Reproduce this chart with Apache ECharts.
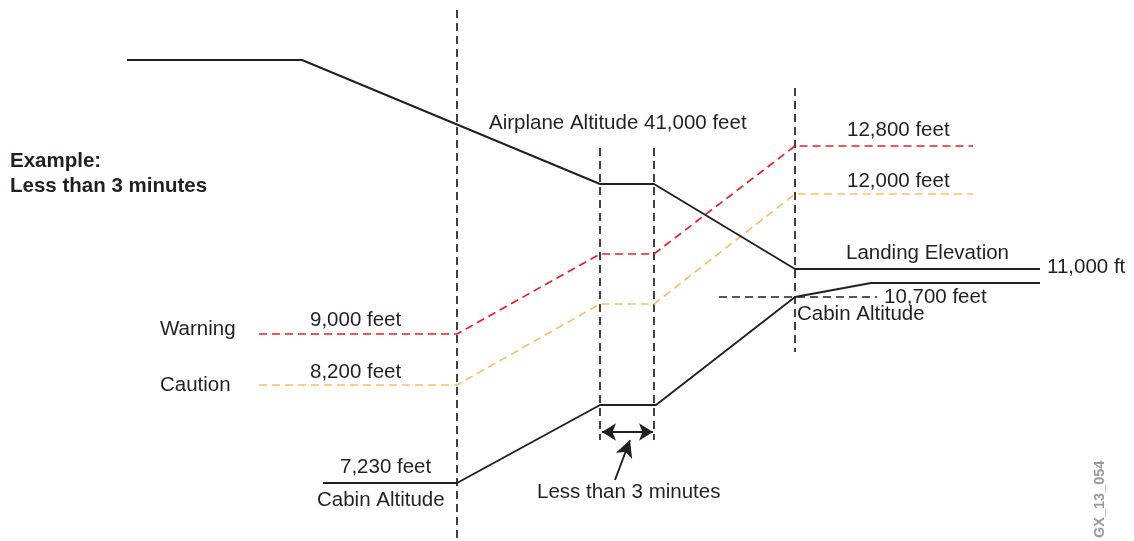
<!DOCTYPE html>
<html>
<head>
<meta charset="utf-8">
<script src="https://cdn.jsdelivr.net/npm/echarts@6/dist/echarts.min.js"></script>
<style>
  html, body { margin: 0; padding: 0; background: #fff; }
  #chart { width: 1134px; height: 541px; }
</style>
</head>
<body>
<div id="chart"></div>
<script>
// diagram coordinates (horizontal = time, vertical = drawing units, top = 0)
const airplaneX = [127, 302, 600, 654, 795, 1040]
const airplaneY = [60, 60, 184, 184, 269, 269]

const cabinX = [323, 457, 600, 656, 795, 871, 1040]
const cabinY = [483, 483, 405, 405, 297, 283, 283]

const warningX = [259, 457, 600, 654, 795, 973]
const warningY = [334, 334, 254, 254, 146, 146]

const cautionX = [259, 457, 600, 654, 795, 973]
const cautionY = [385, 385, 304, 304, 194, 194]

// vertical dashed guides: x, top, bottom
const guideX = [457, 600, 654, 795]
const guideTop = [10, 148, 148, 88]
const guideBottom = [541, 440, 440, 352]

// cabin altitude reference at 10,700 feet
const refX = [719, 877]
const refY = [297, 297]

const BLACK = '#231f20'
const RED = '#ed1c24'
const ORANGE = '#fbbf6a'
const FONT = '20.5px "Liberation Sans", Arial, sans-serif'
const BOLD = 'bold 20.5px "Liberation Sans", Arial, sans-serif'

const zip = (xs, ys) => xs.map((x, i) => [x, ys[i]])

const lineSeries = (name, xs, ys, color, dashed) => ({
  name,
  type: 'line',
  data: zip(xs, ys),
  symbol: 'none',
  silent: true,
  lineStyle: {
    color,
    width: dashed ? 1.7 : 1.9,
    type: dashed ? [8, 5] : 'solid'
  },
  z: dashed ? 3 : 4
})

const guides = guideX.map((x, i) =>
  lineSeries('guide' + i, [x, x], [guideTop[i], guideBottom[i]], BLACK, true))

const text = (str, x, y, opts = {}) => ({
  type: 'text',
  x,
  y,
  style: Object.assign({
    text: str,
    fill: BLACK,
    font: FONT,
    textVerticalAlign: 'middle'
  }, opts)
})

const chart = echarts.init(document.getElementById('chart'))

chart.setOption({
  animation: false,
  grid: { left: 0, right: 0, top: 0, bottom: 0 },
  xAxis: { type: 'value', min: 0, max: 1134, show: false },
  yAxis: { type: 'value', min: 0, max: 541, inverse: true, show: false },
  series: [
    ...guides,
    lineSeries('reference', refX, refY, BLACK, true),
    lineSeries('Warning', warningX, warningY, RED, true),
    lineSeries('Caution', cautionX, cautionY, ORANGE, true),
    lineSeries('Airplane Altitude', airplaneX, airplaneY, BLACK, false),
    Object.assign(lineSeries('Cabin Altitude', cabinX, cabinY, BLACK, false), {
      markLine: {
        silent: true,
        animation: false,
        label: { show: false },
        lineStyle: { color: BLACK, width: 1.9, type: 'solid' },
        data: [
          [
            { coord: [602, 432], symbol: 'arrow', symbolSize: [13, 14] },
            { coord: [653, 432], symbol: 'arrow', symbolSize: [13, 14] }
          ],
          [
            { coord: [615, 480], symbol: 'none' },
            { coord: [630, 440], symbol: 'arrow', symbolSize: [13, 17] }
          ]
        ]
      }
    })
  ],
  graphic: [
    text('Example:', 10, 161, { font: BOLD }),
    text('Less than 3 minutes', 10, 186, { font: BOLD }),
    text('Airplane Altitude 41,000 feet', 489, 123),
    text('12,800 feet', 847, 130),
    text('12,000 feet', 847, 181),
    text('Landing Elevation', 846, 253),
    text('11,000 ft', 1047, 267),
    text('10,700 feet', 884, 297),
    text('Cabin Altitude', 797, 314),
    text('Warning', 160, 329),
    text('9,000 feet', 310, 320),
    text('Caution', 160, 385),
    text('8,200 feet', 310, 372),
    text('7,230 feet', 340, 467),
    text('Cabin Altitude', 317, 500),
    text('Less than 3 minutes', 537, 492),
    {
      type: 'text',
      x: 1100,
      y: 538,
      rotation: Math.PI / 2,
      style: {
        text: 'GX_13_054',
        fill: '#9a9a9a',
        font: 'bold 14.5px "Liberation Sans", Arial, sans-serif',
        textVerticalAlign: 'middle'
      }
    }
  ]
})
</script>
</body>
</html>
